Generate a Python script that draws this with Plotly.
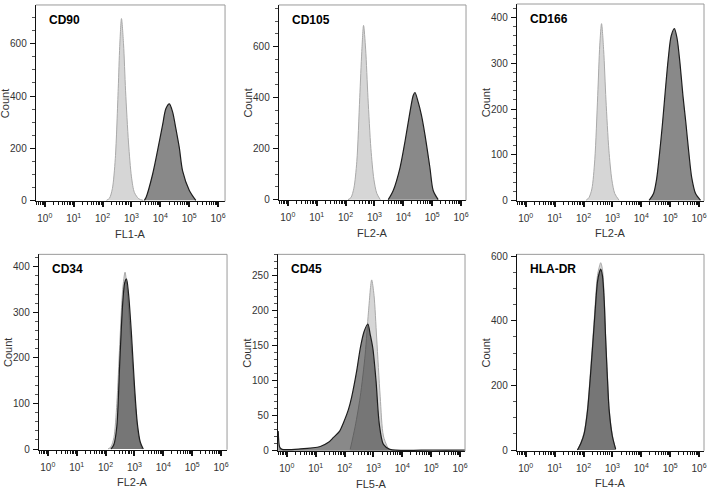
import numpy as np
import plotly.graph_objects as go

W, H = 709, 494

# ---------------- data (x as log10 fluorescence, y as counts) ----------------
panels = ["CD90", "CD105", "CD166", "CD34", "CD45", "HLA-DR"]
channels = ["FL1-A", "FL2-A", "FL2-A", "FL2-A", "FL5-A", "FL4-A"]

cd90_ctrl_log = [2.136, 2.238, 2.340, 2.441, 2.543, 2.594, 2.655, 2.726, 2.797, 2.899, 3.001, 3.103, 3.255, 3.408]
cd90_ctrl_cnt = [0, 8, 45, 160, 430, 590, 697, 600, 420, 220, 90, 30, 6, 0]
cd90_samp_log = [3.448, 3.509, 3.733, 3.967, 4.079, 4.191, 4.313, 4.425, 4.537, 4.659, 4.771, 5.005, 5.229]
cd90_samp_cnt = [0, 12, 100, 226, 289, 351, 370, 339, 276, 201, 113, 38, 0]

cd105_ctrl_log = [2.085, 2.187, 2.289, 2.391, 2.492, 2.563, 2.624, 2.696, 2.777, 2.879, 2.981, 3.082, 3.204]
cd105_ctrl_cnt = [0, 8, 45, 150, 400, 580, 683, 590, 400, 200, 80, 25, 0]
cd105_samp_log = [3.479, 3.652, 3.886, 4.059, 4.232, 4.344, 4.405, 4.517, 4.628, 4.751, 4.923, 5.035, 5.208]
cd105_samp_cnt = [0, 36, 125, 228, 344, 408, 420, 382, 331, 254, 125, 36, 0]

cd166_ctrl_log = [2.085, 2.187, 2.289, 2.391, 2.492, 2.563, 2.624, 2.696, 2.777, 2.879, 2.981, 3.082, 3.235]
cd166_ctrl_cnt = [0, 6, 25, 90, 230, 340, 387, 330, 220, 110, 45, 15, 0]
cd166_samp_log = [4.272, 4.425, 4.527, 4.628, 4.730, 4.832, 4.934, 5.035, 5.147, 5.239, 5.341, 5.442,
                  5.544, 5.646, 5.747, 5.880, 6.053]
cd166_samp_cnt = [0, 15, 45, 100, 165, 240, 310, 360, 376, 355, 300, 230, 170, 105, 50, 15, 0]

cd34_ctrl_log = [2.085, 2.187, 2.289, 2.391, 2.492, 2.594, 2.675, 2.747, 2.848, 2.950, 3.052, 3.153, 3.255]
cd34_ctrl_cnt = [0, 5, 25, 100, 230, 350, 388, 350, 260, 170, 80, 25, 0]
cd34_samp_log = [2.187, 2.289, 2.391, 2.492, 2.594, 2.665, 2.726, 2.797, 2.899, 3.001, 3.103, 3.204, 3.306]
cd34_samp_cnt = [0, 10, 50, 190, 320, 365, 373, 340, 250, 140, 55, 15, 0]

cd45_ctrl_log = [2.197, 2.370, 2.543, 2.716, 2.828, 2.940, 3.021, 3.113, 3.235, 3.347, 3.520]
cd45_ctrl_cnt = [2, 35, 77, 138, 198, 244, 222, 161, 77, 21, 2]
cd45_samp_log = [-0.295, -0.244, -0.163, 0.468, 1.160, 1.444, 1.617, 1.831, 1.963, 2.136, 2.248, 2.421,
                 2.543, 2.675, 2.808, 2.889, 2.981, 3.092, 3.204, 3.347, 3.571, 5.066, 6.200]
cd45_samp_cnt = [28, 5, 2, 2.5, 6, 12, 19, 28, 40, 59, 77, 114,
                 146, 170, 181, 166, 146, 99, 38, 9, 2, 1, 1]

hla_ctrl_log = [1.790, 1.912, 2.024, 2.136, 2.248, 2.370, 2.482, 2.543, 2.594, 2.655, 2.716, 2.767,
                2.828, 2.889, 3.001, 3.113]
hla_ctrl_cnt = [0, 24, 56, 128, 252, 405, 540, 566, 580, 560, 478, 354, 230, 128, 45, 3]
hla_samp_log = [1.790, 1.912, 2.024, 2.136, 2.248, 2.370, 2.482, 2.543, 2.594, 2.655, 2.716, 2.767,
                2.828, 2.889, 3.001, 3.113]
hla_samp_cnt = [0, 22, 52, 120, 240, 390, 520, 548, 560, 540, 462, 342, 222, 122, 42, 3]

ctrl_log = [cd90_ctrl_log, cd105_ctrl_log, cd166_ctrl_log, cd34_ctrl_log, cd45_ctrl_log, hla_ctrl_log]
ctrl_cnt = [cd90_ctrl_cnt, cd105_ctrl_cnt, cd166_ctrl_cnt, cd34_ctrl_cnt, cd45_ctrl_cnt, hla_ctrl_cnt]
samp_log = [cd90_samp_log, cd105_samp_log, cd166_samp_log, cd34_samp_log, cd45_samp_log, hla_samp_log]
samp_cnt = [cd90_samp_cnt, cd105_samp_cnt, cd166_samp_cnt, cd34_samp_cnt, cd45_samp_cnt, hla_samp_cnt]

y_ranges = [[-3.8, 749], [-2.7, 763], [-1.0, 430], [-1.5, 427], [-0.7, 280.5], [-2.0, 605.8]]
y_major = [200, 200, 100, 100, 50, 200]
y_minor = [50, 50, 20, 20, 10, 50]
y_max_tick = [600, 600, 400, 400, 250, 600]

x_tick_vals = [1, 10, 100, 1000, 10000, 100000, 1000000]
x_tick_text = ["10<sup>0</sup>", "10<sup>1</sup>", "10<sup>2</sup>", "10<sup>3</sup>",
               "10<sup>4</sup>", "10<sup>5</sup>", "10<sup>6</sup>"]

# ---------------- layout geometry (pixels) ----------------
rects = [(36, 226, 1, 201), (280, 468, 1, 200), (519, 707, 0, 200.5),
         (39, 228, 255, 454), (279, 467, 255, 455.5), (519, 707, 255, 455)]
PX_PER_DEC = 29.0
X0_OFF = 9

def px_x(v):
    return v / W

def px_y(v):
    return 1 - v / H

fig = go.Figure()
layout = dict(width=W, height=H, margin=dict(l=0, r=0, t=0, b=0),
              paper_bgcolor="white", plot_bgcolor="white", showlegend=False)
annotations = []
shapes = []
font_fam = "Liberation Sans, Arial, sans-serif"

minor_x = [m * 10 ** d for d in range(-1, 7) for m in range(2, 10)]

for i in range(6):
    n = "" if i == 0 else str(i + 1)
    xa, ya = "x" + n, "y" + n
    L, R, T, B = rects[i]
    x0 = -X0_OFF / PX_PER_DEC
    x1 = (R - L - X0_OFF) / PX_PER_DEC

    fig.add_trace(go.Scatter(
        x=np.power(10.0, ctrl_log[i]), y=ctrl_cnt[i], xaxis=xa, yaxis=ya,
        mode="lines", line=dict(color="#a9a9a9", width=1, shape="spline", smoothing=0.8),
        fill="tozeroy", fillcolor="#d6d6d6", hoverinfo="skip"))
    fig.add_trace(go.Scatter(
        x=np.power(10.0, samp_log[i]), y=samp_cnt[i], xaxis=xa, yaxis=ya,
        mode="lines", line=dict(color="#1e1e1e", width=1.2, shape="spline", smoothing=0.8),
        fill="tozeroy", fillcolor="rgba(40,40,40,0.55)", hoverinfo="skip"))

    layout["xaxis" + n] = dict(
        domain=[px_x(L), px_x(R)], anchor=ya, type="log", range=[x0, x1],
        tickmode="array", tickvals=x_tick_vals, ticktext=x_tick_text,
        ticks="outside", ticklen=5, tickwidth=1.6, tickcolor="#111",
        showline=True, linecolor="#111", linewidth=1.2, showgrid=False, zeroline=False,
        tickfont=dict(family=font_fam, size=10, color="#333"), ticklabelstandoff=3,
        minor=dict(tickmode="array", tickvals=minor_x, ticks="outside", ticklen=3,
                   tickwidth=1, tickcolor="#111", showgrid=False),
    )
    layout["yaxis" + n] = dict(
        domain=[px_y(B), px_y(T)], anchor=xa, range=y_ranges[i],
        tickmode="array", tickvals=list(range(0, y_max_tick[i] + 1, y_major[i])),
        ticks="outside", ticklen=5, tickwidth=1.4, tickcolor="#111",
        showline=True, linecolor="#111", linewidth=1.2, showgrid=False, zeroline=False,
        tickfont=dict(family=font_fam, size=10, color="#333"), ticklabelstandoff=1,
        minor=dict(dtick=y_minor[i], tick0=0, ticks="outside", ticklen=3, tickwidth=1,
                   tickcolor="#555", showgrid=False),
    )
    shapes.append(dict(type="line", xref=xa + " domain", yref=ya + " domain",
                       x0=0, x1=1, y0=1, y1=1, line=dict(color="#9a9a9a", width=1)))
    shapes.append(dict(type="line", xref=xa + " domain", yref=ya + " domain",
                       x0=1, x1=1, y0=0, y1=1, line=dict(color="#9a9a9a", width=1)))
    annotations.append(dict(text="<b>%s</b>" % panels[i], xref="paper", yref="paper",
                            x=px_x(L + 11), y=px_y(T + 15), xanchor="left", yanchor="middle",
                            showarrow=False, font=dict(family=font_fam, size=12, color="#000")))
    annotations.append(dict(text="Count", xref="paper", yref="paper",
                            x=px_x(L - 31), y=px_y((T + B) / 2), textangle=-90,
                            xanchor="center", yanchor="middle", showarrow=False,
                            font=dict(family=font_fam, size=11, color="#333")))
    annotations.append(dict(text=channels[i], xref="paper", yref="paper",
                            x=px_x((L + R) / 2), y=px_y(B + 33), xanchor="center",
                            yanchor="middle", showarrow=False,
                            font=dict(family=font_fam, size=11, color="#333")))

layout["annotations"] = annotations
layout["shapes"] = shapes
fig.update_layout(**layout)
fig.write_html("out.html", config={"displayModeBar": False},
               post_script="document.body.style.margin='0';document.body.style.overflow='hidden';")
